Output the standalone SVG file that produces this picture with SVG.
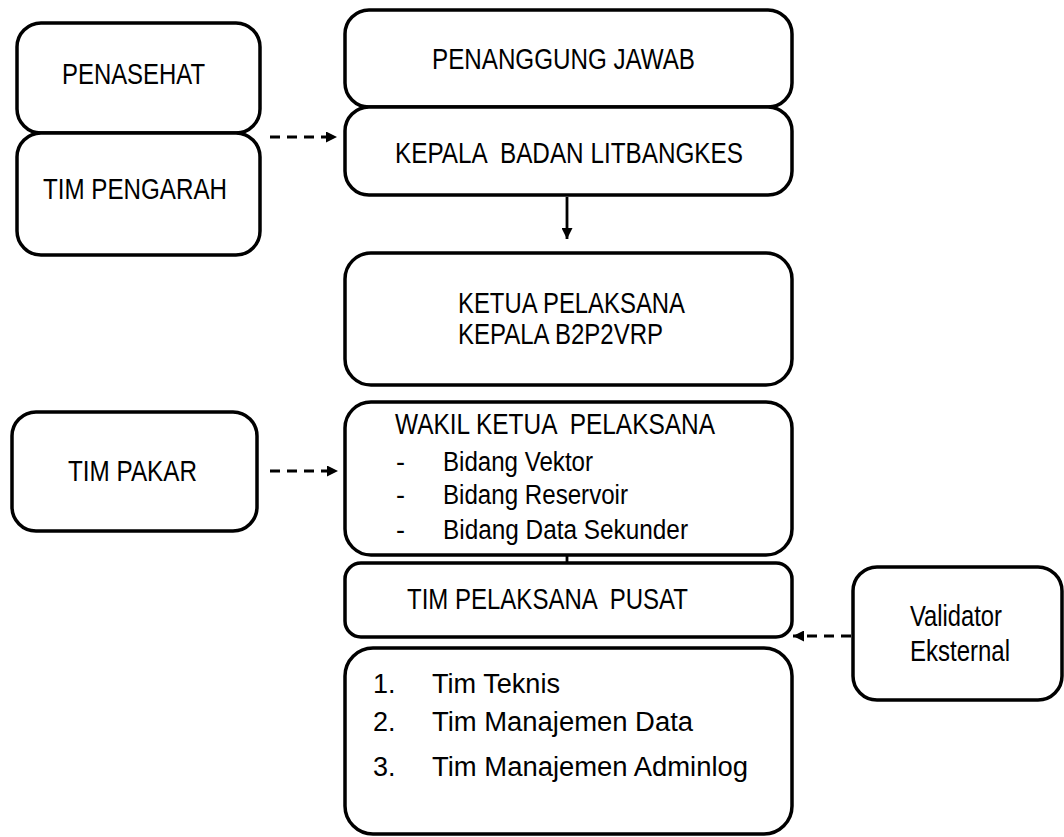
<svg xmlns="http://www.w3.org/2000/svg" width="1064" height="837" viewBox="0 0 1064 837">
<defs>
<marker id="ah" viewBox="0 0 10 10" refX="10" refY="5" markerWidth="11" markerHeight="11" markerUnits="userSpaceOnUse" orient="auto">
<path d="M0,0 L10,5 L0,10 z" fill="#000"/>
</marker>
</defs>
<style>
.box{fill:#fff;stroke:#000;stroke-width:3.5}
.t{font-family:"Liberation Sans Narrow","Liberation Sans",Arial,sans-serif;font-size:30px;fill:#000}
.r{font-family:"Liberation Sans",Arial,sans-serif;font-size:27px;fill:#000}
.c{fill:none;stroke:#000;stroke-width:2.8}
.d{stroke-dasharray:10,7}
</style>
<rect width="1064" height="837" fill="#fff"/>
<g id="penasehat">
<rect class="box" x="17" y="23" width="243" height="110" rx="24"/>
<text class="t" x="62" y="84" textLength="143" lengthAdjust="spacingAndGlyphs">PENASEHAT</text>
</g>
<g id="tim-pengarah">
<rect class="box" x="17" y="133" width="243" height="122" rx="24"/>
<text class="t" x="43" y="199" textLength="184" lengthAdjust="spacingAndGlyphs">TIM PENGARAH</text>
</g>
<g id="penanggung-jawab">
<rect class="box" x="345" y="10" width="447" height="97" rx="24"/>
<text class="t" x="432" y="69" textLength="263" lengthAdjust="spacingAndGlyphs">PENANGGUNG JAWAB</text>
</g>
<g id="kepala-badan">
<rect class="box" x="345" y="107" width="447" height="88" rx="24"/>
<text class="t" x="395" y="163" textLength="348" lengthAdjust="spacingAndGlyphs" xml:space="preserve">KEPALA  BADAN LITBANGKES</text>
</g>
<g id="ketua-pelaksana">
<rect class="box" x="345" y="253" width="447" height="132" rx="26"/>
<text class="t" x="458" y="313" textLength="227" lengthAdjust="spacingAndGlyphs">KETUA PELAKSANA</text>
<text class="t" x="458" y="344" textLength="205" lengthAdjust="spacingAndGlyphs">KEPALA B2P2VRP</text>
</g>
<g id="tim-pakar">
<rect class="box" x="12" y="412" width="245" height="119" rx="24"/>
<text class="t" x="68" y="481" textLength="129" lengthAdjust="spacingAndGlyphs">TIM PAKAR</text>
</g>
<g id="wakil-ketua">
<rect class="box" x="345" y="402" width="447" height="153" rx="26"/>
<text class="t" x="395" y="434" textLength="320" lengthAdjust="spacingAndGlyphs" xml:space="preserve">WAKIL KETUA  PELAKSANA</text>
<text class="r" x="396" y="471">-</text>
<text class="r" x="443" y="471" textLength="150" lengthAdjust="spacingAndGlyphs">Bidang Vektor</text>
<text class="r" x="396" y="504">-</text>
<text class="r" x="443" y="504" textLength="185" lengthAdjust="spacingAndGlyphs">Bidang Reservoir</text>
<text class="r" x="396" y="539">-</text>
<text class="r" x="443" y="539" textLength="245" lengthAdjust="spacingAndGlyphs">Bidang Data Sekunder</text>
</g>
<g id="tim-pelaksana-pusat">
<rect class="box" x="345" y="563" width="447" height="74" rx="16"/>
<text class="t" x="407" y="609" textLength="281" lengthAdjust="spacingAndGlyphs" xml:space="preserve">TIM PELAKSANA  PUSAT</text>
</g>
<g id="tim-list">
<rect class="box" x="345" y="648" width="447" height="186" rx="28"/>
<text class="r" x="373" y="693">1.</text>
<text class="r" x="432" y="693" textLength="128" lengthAdjust="spacingAndGlyphs">Tim Teknis</text>
<text class="r" x="373" y="731">2.</text>
<text class="r" x="432" y="731" textLength="261" lengthAdjust="spacingAndGlyphs">Tim Manajemen Data</text>
<text class="r" x="373" y="776">3.</text>
<text class="r" x="432" y="776" textLength="316" lengthAdjust="spacingAndGlyphs">Tim Manajemen Adminlog</text>
</g>
<g id="validator">
<rect class="box" x="853" y="567" width="209" height="133" rx="24"/>
<text class="t" x="910" y="626" font-size="27" textLength="92" lengthAdjust="spacingAndGlyphs">Validator</text>
<text class="t" x="910" y="661" font-size="27" textLength="100" lengthAdjust="spacingAndGlyphs">Eksternal</text>
</g>
<g id="connectors">
<line class="c d" x1="270" y1="137" x2="337" y2="137" marker-end="url(#ah)"/>
<line class="c d" x1="270" y1="471" x2="338" y2="471" marker-end="url(#ah)"/>
<line class="c d" x1="851" y1="636" x2="793" y2="636" marker-end="url(#ah)"/>
<line class="c" x1="567" y1="197" x2="567" y2="239" marker-end="url(#ah)"/>
<line class="c" x1="567" y1="555" x2="567" y2="563"/>
</g>
</svg>
